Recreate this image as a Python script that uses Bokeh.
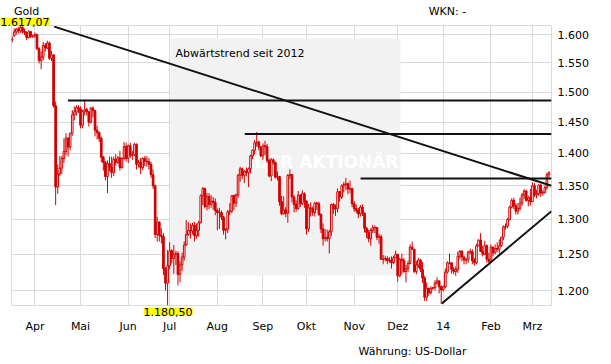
from bokeh.plotting import figure
from bokeh.models import Range1d, FixedTicker, Label, BoxAnnotation, Title, LinearAxis
from bokeh.embed import file_html
from bokeh.resources import INLINE
import numpy as np

# ---- daily gold prices (USD), weekday index 0 = 15 Mar 2013 ... 259 = 13 Mar 2014
opens = [
    1590, 1598, 1605, 1610, 1607, 1613, 1606, 1604, 1595, 1605, 1597,
    1598, 1600, 1575, 1554, 1560, 1581, 1576, 1585, 1558, 1564, 1477, 1348, 1368, 1377, 1392, 1403, 1424, 1410, 1432, 1462, 1467, 1474,
    1472, 1445, 1468, 1471, 1467, 1450, 1473, 1469, 1437, 1433, 1424, 1394, 1386, 1364, 1384, 1378, 1370, 1391, 1386, 1393, 1378, 1392, 1411,
    1392, 1412, 1397, 1398, 1414, 1383, 1386, 1378, 1392, 1388, 1387, 1383, 1367, 1350, 1278, 1296, 1277, 1275, 1230, 1210,
    1234, 1255, 1244, 1250, 1251, 1222, 1235, 1246, 1263, 1278, 1284, 1283, 1291, 1276, 1284, 1295, 1335, 1346, 1319, 1334, 1322, 1327, 1325,
    1313, 1310, 1310, 1303, 1284, 1286, 1311, 1312, 1335, 1324, 1336, 1366, 1376, 1366, 1372, 1370, 1376, 1396, 1405, 1417, 1418, 1410,
    1396, 1412, 1411, 1389, 1365, 1390, 1386, 1363, 1364, 1326, 1308, 1314, 1309, 1366, 1367, 1333, 1322, 1316, 1336, 1323, 1338,
    1327, 1286, 1317, 1316, 1310, 1324, 1323, 1307, 1286, 1272, 1274, 1272, 1282, 1322, 1315, 1316, 1341, 1333, 1350, 1352, 1353, 1345, 1346,
    1323, 1316, 1313, 1308, 1318, 1309, 1287, 1281, 1272, 1284, 1288, 1288, 1274, 1275, 1243, 1243, 1244, 1241, 1242, 1238, 1245,
    1250, 1220, 1243, 1241, 1226, 1230, 1237, 1260, 1257, 1226, 1235, 1242, 1229, 1217, 1191, 1203, 1197, 1203, 1204, 1210, 1213, 1205,
    1201, 1205, 1225, 1238, 1238, 1229, 1226, 1229, 1247, 1254, 1246, 1242, 1242, 1253, 1254, 1241, 1238, 1262, 1270, 1254, 1250, 1262, 1243,
    1240, 1260, 1252, 1258, 1257, 1262, 1274, 1289, 1290, 1300, 1318, 1328, 1320, 1312, 1316, 1324, 1336, 1342, 1328, 1332,
    1326, 1350, 1336, 1338, 1351, 1339, 1340, 1347, 1367,
]
highs = [
    1597, 1611, 1612, 1614, 1617.07, 1615, 1611, 1606, 1608, 1607, 1600,
    1604, 1602, 1578, 1570, 1587, 1585, 1589, 1588, 1571, 1564, 1484, 1383, 1396, 1396, 1424, 1432, 1426, 1433, 1470, 1476, 1478, 1478,
    1476, 1470, 1487, 1474, 1468, 1475, 1476, 1470, 1444, 1435, 1427, 1396, 1388, 1389, 1395, 1395, 1395, 1399, 1396, 1404, 1394, 1418, 1417,
    1414, 1417, 1404, 1417, 1416, 1390, 1393, 1394, 1396, 1396, 1393, 1387, 1375, 1352, 1304, 1297, 1287, 1280, 1232, 1256,
    1267, 1257, 1263, 1255, 1254, 1240, 1252, 1268, 1299, 1296, 1294, 1295, 1296, 1294, 1298, 1337, 1348, 1347, 1339, 1339, 1336, 1333, 1331,
    1316, 1317, 1313, 1305, 1287, 1314, 1324, 1336, 1337, 1338, 1368, 1379, 1378, 1374, 1378, 1378, 1398, 1406, 1421, 1434, 1420, 1412,
    1416, 1420, 1415, 1392, 1393, 1392, 1387, 1372, 1365, 1335, 1334, 1318, 1368, 1375, 1368, 1336, 1328, 1342, 1337, 1343, 1340,
    1328, 1323, 1325, 1319, 1326, 1326, 1326, 1309, 1294, 1286, 1285, 1285, 1323, 1324, 1322, 1346, 1342, 1352, 1356, 1362, 1355, 1358, 1347,
    1327, 1322, 1317, 1321, 1322, 1310, 1289, 1285, 1287, 1292, 1291, 1289, 1279, 1278, 1249, 1248, 1247, 1246, 1247, 1248, 1255,
    1250, 1245, 1251, 1245, 1235, 1241, 1264, 1268, 1257, 1241, 1245, 1243, 1239, 1220, 1211, 1204, 1206, 1205, 1214, 1218, 1214, 1207,
    1207, 1230, 1240, 1251, 1239, 1232, 1233, 1254, 1256, 1256, 1248, 1245, 1255, 1258, 1257, 1245, 1265, 1271, 1280, 1262, 1269, 1264, 1252,
    1264, 1261, 1264, 1267, 1271, 1275, 1291, 1294, 1302, 1320, 1331, 1332, 1324, 1324, 1332, 1339, 1345, 1344, 1335, 1345,
    1355, 1354, 1344, 1352, 1353, 1343, 1350, 1370, 1372,
]
lows = [
    1586, 1596, 1600, 1602, 1603, 1602, 1599, 1590, 1593, 1594, 1594,
    1594, 1572, 1549, 1539, 1555, 1570, 1574, 1555, 1553, 1474, 1321, 1338, 1365, 1368, 1385, 1397, 1395, 1405, 1428, 1453, 1461, 1465,
    1440, 1440, 1461, 1461, 1443, 1448, 1458, 1427, 1422, 1418, 1386, 1373, 1358, 1339, 1372, 1362, 1365, 1381, 1384, 1373, 1376, 1389, 1387,
    1385, 1393, 1390, 1396, 1375, 1378, 1368, 1374, 1380, 1379, 1375, 1362, 1345, 1273, 1268, 1268, 1265, 1221, 1200, 1180.5,
    1229, 1237, 1223, 1235, 1207, 1211, 1227, 1241, 1262, 1276, 1272, 1278, 1268, 1272, 1275, 1294, 1321, 1316, 1313, 1315, 1317, 1314, 1306,
    1284, 1286, 1299, 1278, 1271, 1280, 1306, 1309, 1314, 1318, 1332, 1356, 1360, 1354, 1364, 1348, 1369, 1391, 1398, 1411, 1405, 1394,
    1390, 1398, 1385, 1363, 1357, 1382, 1361, 1358, 1320, 1306, 1307, 1303, 1295, 1360, 1325, 1310, 1311, 1314, 1318, 1321, 1317,
    1278, 1282, 1304, 1305, 1304, 1314, 1305, 1280, 1262, 1268, 1268, 1251, 1276, 1308, 1305, 1310, 1326, 1330, 1340, 1343, 1337, 1339, 1318,
    1311, 1309, 1302, 1304, 1305, 1281, 1273, 1267, 1262, 1280, 1280, 1270, 1265, 1242, 1236, 1240, 1236, 1238, 1230, 1236, 1245,
    1212, 1218, 1222, 1224, 1211, 1225, 1236, 1256, 1224, 1222, 1231, 1225, 1210, 1186, 1186, 1193, 1195, 1201, 1200, 1208, 1196, 1182,
    1199, 1203, 1223, 1236, 1223, 1222, 1220, 1224, 1243, 1240, 1236, 1236, 1238, 1250, 1236, 1234, 1236, 1261, 1253, 1247, 1249, 1238, 1238,
    1239, 1247, 1250, 1253, 1251, 1260, 1270, 1285, 1287, 1298, 1316, 1315, 1307, 1307, 1313, 1320, 1330, 1326, 1319, 1320,
    1326, 1333, 1331, 1335, 1333, 1335, 1338, 1344, 1362,
]
closes = [
    1592, 1605, 1610, 1607, 1613, 1606, 1604, 1595, 1605, 1597, 1598,
    1600, 1575, 1554, 1560, 1581, 1576, 1585, 1558, 1564, 1477, 1348, 1368, 1377, 1392, 1403, 1424, 1410, 1432, 1462, 1467, 1474, 1472,
    1445, 1468, 1471, 1467, 1450, 1473, 1469, 1437, 1433, 1424, 1394, 1386, 1364, 1384, 1378, 1370, 1391, 1386, 1393, 1378, 1392, 1411, 1392,
    1412, 1397, 1398, 1414, 1383, 1386, 1378, 1392, 1388, 1387, 1383, 1367, 1350, 1278, 1296, 1277, 1275, 1230, 1210, 1234,
    1255, 1244, 1250, 1251, 1222, 1235, 1246, 1263, 1278, 1284, 1283, 1291, 1276, 1284, 1295, 1335, 1346, 1319, 1334, 1322, 1327, 1325, 1313,
    1310, 1310, 1303, 1284, 1286, 1311, 1312, 1335, 1324, 1336, 1366, 1376, 1366, 1372, 1370, 1376, 1396, 1405, 1417, 1418, 1410, 1396,
    1412, 1411, 1389, 1365, 1390, 1386, 1363, 1364, 1326, 1308, 1314, 1309, 1366, 1367, 1333, 1322, 1316, 1336, 1323, 1338, 1327,
    1286, 1317, 1316, 1310, 1324, 1323, 1307, 1286, 1272, 1274, 1272, 1282, 1322, 1315, 1316, 1341, 1333, 1350, 1352, 1353, 1345, 1346, 1323,
    1316, 1313, 1308, 1318, 1309, 1287, 1281, 1272, 1284, 1288, 1288, 1274, 1275, 1243, 1243, 1244, 1241, 1242, 1238, 1245, 1250,
    1220, 1243, 1241, 1226, 1230, 1237, 1260, 1257, 1226, 1235, 1242, 1229, 1217, 1191, 1203, 1197, 1203, 1204, 1210, 1213, 1205, 1201,
    1205, 1225, 1238, 1238, 1229, 1226, 1229, 1247, 1254, 1246, 1242, 1242, 1253, 1254, 1241, 1238, 1262, 1270, 1254, 1250, 1262, 1243, 1240,
    1260, 1252, 1258, 1257, 1262, 1274, 1289, 1290, 1300, 1318, 1328, 1320, 1312, 1316, 1324, 1336, 1342, 1328, 1332, 1326,
    1350, 1336, 1338, 1351, 1339, 1340, 1347, 1367, 1370,
]

# month starts (weekday index) and their labels
month_idx = [11, 33, 56, 76, 99, 121, 142, 165, 186, 208, 231, 251]
month_labels = ["Apr", "Mai", "Jun", "Jul", "Aug", "Sep", "Okt", "Nov", "Dez", "14", "Feb", "Mrz"]

# price axis
y_ticks = [1200, 1250, 1300, 1350, 1400, 1450, 1500, 1550, 1600]
y_tick_labels = ["1.200", "1.250", "1.300", "1.350", "1.400", "1.450", "1.500", "1.550", "1.600"]

# drawn analysis lines
res_levels = [1486, 1431, 1361]
res_start = [26.9, 112.2, 168.1]
down_x = [20.3, 260.2]
down_y = [1614.5, 1350.0]
up_x = [207.3, 260.2]
up_y = [1182.6, 1312.0]

# header texts
header_idx = [7, 210]
header_texts = ["Gold", "WKN: -"]


def de_fmt(v):
    s = f"{v:,.2f}"
    return s.replace(",", "X").replace(".", ",").replace("X", ".")


RED = "#d00000"
GRID = "#d9d9d9"
FONT = "DejaVu Sans"

o = np.array(opens, dtype=float)
h = np.array(highs, dtype=float)
l = np.array(lows, dtype=float)
c = np.array(closes, dtype=float)
idx = np.arange(len(c))
x_start, x_end = -0.3, len(c) + 0.2
FRAME_W = 540

p = figure(width=611, height=364,
           x_range=Range1d(x_start, x_end), y_range=Range1d(1180.0, 1616.5),
           y_axis_type="log", y_axis_location="right", title_location=None,
           output_backend="svg", toolbar_location=None,
           min_border_left=11, min_border_right=60, min_border_top=25, min_border_bottom=59)
p.background_fill_color = "white"
p.border_fill_color = "white"
p.outline_line_color = GRID
p.outline_line_width = 1

# watermark box
p.add_layout(BoxAnnotation(left=159, right=389, top=267, bottom=30,
                           left_units="screen", right_units="screen",
                           top_units="screen", bottom_units="screen",
                           fill_color="#f2f2f2", fill_alpha=1.0, line_color=None,
                           level="underlay"))
p.add_layout(Label(x=315, y=144, x_units="screen", y_units="screen", text="DER AKTIONÄR",
                   text_font=FONT, text_font_size="17px", text_font_style="bold",
                   text_color="#ffffff", text_align="center", text_baseline="middle",
                   level="underlay"))

# axes
xaxis = p.xaxis[0]
xaxis.ticker = FixedTicker(ticks=month_idx)
xaxis.major_label_overrides = {m: t for m, t in zip(month_idx, month_labels)}
p.xgrid.ticker = FixedTicker(ticks=month_idx)
p.yaxis.ticker = FixedTicker(ticks=y_ticks)
p.yaxis.major_label_overrides = {v: t for v, t in zip(y_ticks, y_tick_labels)}
p.ygrid.ticker = FixedTicker(ticks=y_ticks)
top_axis = LinearAxis(ticker=FixedTicker(ticks=header_idx),
                      major_label_overrides={i: t for i, t in zip(header_idx, header_texts)})
for ax in (xaxis, p.yaxis[0], top_axis):
    ax.axis_line_color = None
    ax.major_tick_line_color = None
    ax.minor_tick_line_color = None
    ax.major_tick_out = 0
    ax.major_tick_in = 0
    ax.minor_tick_out = 0
    ax.minor_tick_in = 0
    ax.major_label_text_font = FONT
    ax.major_label_text_font_size = "11px"
    ax.major_label_text_color = "#000000"
p.yaxis.major_label_standoff = 6
xaxis.major_label_standoff = 4
top_axis.major_label_standoff = -2
p.xgrid.grid_line_color = GRID
p.ygrid.grid_line_color = GRID

# candles
p.segment(x0=idx, y0=h, x1=idx, y1=l, line_color=RED, line_width=1)
up = c >= o
dn = ~up
p.vbar(x=idx[dn], top=o[dn], bottom=c[dn], width=0.8, fill_color=RED, line_color=RED, line_width=1)
p.vbar(x=idx[up], top=c[up], bottom=o[up], width=0.8, fill_color="white", line_color=RED, line_width=1)

# trend / resistance lines
p.segment(x0=res_start, y0=res_levels, x1=[x_end] * len(res_levels), y1=res_levels,
          line_color="#111111", line_width=2)
p.line(down_x, down_y, line_color="#111111", line_width=2)
p.line(up_x, up_y, line_color="#111111", line_width=2)

p.add_layout(Label(x=164, y=252, x_units="screen", y_units="screen", text="Abwärtstrend seit 2012",
                   text_font=FONT, text_font_size="11px", text_color="#000000",
                   text_baseline="middle"))

# side-panel texts
txt = dict(text_font=FONT, text_font_size="11px", text_font_style="normal", text_color="#000000")
high_title = Title(text=de_fmt(h.max()), align="left", offset=-11, standoff=0,
                   background_fill_color="#ffff00", **txt)
low_i = int(np.argmin(l))
low_px = (low_i - x_start) / (x_end - x_start) * FRAME_W
low_title = Title(text=de_fmt(l.min()), align="left", offset=low_px - 24, standoff=0,
                  background_fill_color="#ffff00", **txt)
cur_title = Title(text="Währung: US-Dollar", align="left", offset=347, standoff=14, **txt)

p.above = [high_title, top_axis]
p.below = [low_title, xaxis, cur_title]

open("out.html", "w").write(file_html(p, INLINE))
